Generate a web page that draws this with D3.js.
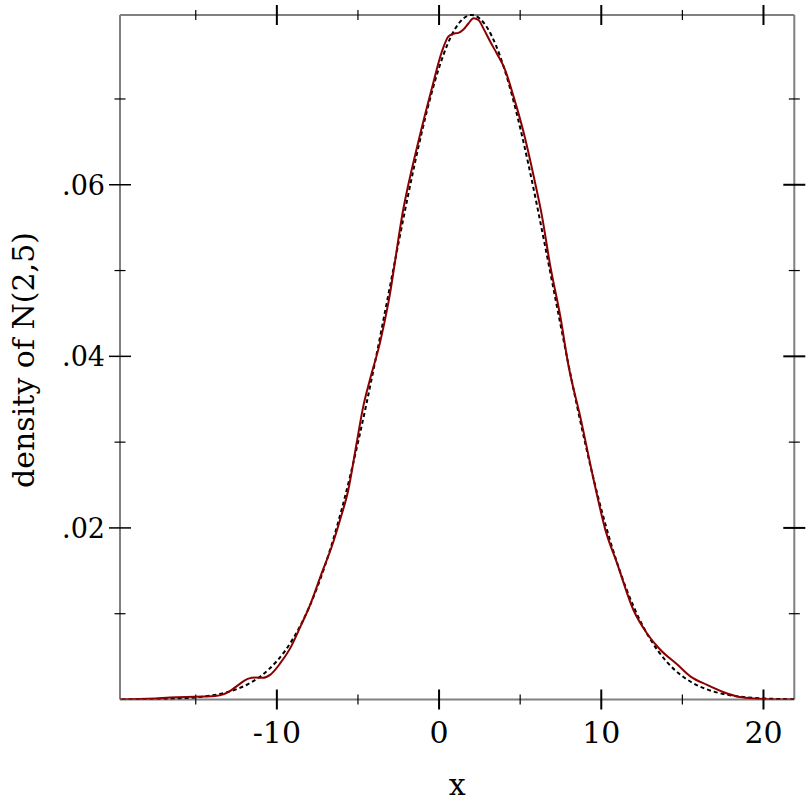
<!DOCTYPE html>
<html>
<head>
<meta charset="utf-8">
<script src="https://cdn.jsdelivr.net/npm/d3@7"></script>
<style>
  html, body { margin: 0; padding: 0; background: #fff; }
  svg { display: block; }
  text { font-family: "DejaVu Serif", serif; fill: #000; }
</style>
</head>
<body>
<svg id="chart" width="812" height="812"></svg>
<script>
// ---- data ----
const xDomain = [-19.67, 21.9];
const yDomain = [0, 0.079788];

const xMajorTicks = [-10, 0, 10, 20];
const xMajorLabels = ["-10", "0", "10", "20"];
const xMinorTicks = [-15, -5, 5, 15];
const yMajorTicks = [0.02, 0.04, 0.06];
const yMajorLabels = [".02", ".04", ".06"];
const yMinorTicks = [0.01, 0.03, 0.05, 0.07];

const xLabel = "x";
const yLabel = "density of N(2,5)";

// normal density N(2,5), read at integer x
const normX = [-20,-19,-18,-17,-16,-15,-14,-13,-12,-11,-10,-9,-8,-7,-6,-5,-4,-3,-2,-1,0,1,2,3,4,5,6,7,8,9,10,11,12,13,14,15,16,17,18,19,20,21,22];
const normY = [0.000005,0.0000118,0.0000268,0.0000584,0.000122,0.000246,0.000477,0.000886,0.001583,0.002717,0.004479,0.007095,0.010798,0.015790,0.022184,0.029945,0.038837,0.048394,0.057938,0.066645,0.073654,0.078208,0.079788,0.078208,0.073654,0.066645,0.057938,0.048394,0.038837,0.029945,0.022184,0.015790,0.010798,0.007095,0.004479,0.002717,0.001583,0.000886,0.000477,0.000246,0.000122,0.0000584,0.0000268];

// estimated density of the sample
const kdeX = [-19.67,-18.5,-17.5,-16.6,-15.6,-14.5,-13.8,-13.3,-12.9,-12.3,-11.8,-11.3,-10.85,-10.4,-9.8,-9.2,-8.5,-8.0,-7.24,-6.62,-6.11,-5.6,-5.08,-4.67,-4.26,-3.64,-3.13,-2.2,-1.28,-0.45,0.17,0.58,0.88,1.19,1.5,1.81,2.12,2.43,2.74,3.15,3.56,4.07,4.59,5.2,5.82,6.34,6.85,7.47,7.98,8.7,9.6,10.25,10.97,11.99,12.82,13.64,14.67,15.49,16.52,17.55,18.4,19.2,20.2,21.9];
const kdeY = [0,0.00005,0.00013,0.00023,0.0003,0.00034,0.0004,0.0006,0.00097,0.0018,0.0024,0.00255,0.00253,0.0029,0.0042,0.0059,0.0087,0.0108,0.0147,0.0178,0.0209,0.0244,0.0299,0.0342,0.0373,0.0416,0.0462,0.0572,0.0650,0.0712,0.0755,0.0773,0.0776,0.0777,0.0781,0.0788,0.0794,0.0792,0.0782,0.0767,0.0753,0.0734,0.0703,0.0662,0.0611,0.0564,0.0506,0.0447,0.0389,0.0330,0.0250,0.0198,0.0159,0.0104,0.0077,0.0058,0.0041,0.0027,0.0017,0.00085,0.00035,0.00015,0.00004,0];

// ---- layout ----
const L = 120, R = 794.3, T = 15, B = 699.5;
const FS = 30, FSY = 27;
const svg = d3.select("#chart");
const x = d3.scaleLinear().domain(xDomain).range([L, R]);
const y = d3.scaleLinear().domain(yDomain).range([B, T]);

svg.append("defs").append("clipPath").attr("id", "clip")
  .append("rect").attr("x", L).attr("y", T - 3).attr("width", R - L).attr("height", B - T + 3);

// frame
const axisColor = "#808080";
svg.append("g").selectAll("line")
  .data([[L, T, R, T], [L, B, R, B], [L, T, L, B], [R, T, R, B]])
  .join("line")
  .attr("x1", d => d[0]).attr("y1", d => d[1]).attr("x2", d => d[2]).attr("y2", d => d[3])
  .attr("stroke", axisColor).attr("stroke-width", 2);

// ticks
const tg = svg.append("g").attr("stroke", "#000");
function hTicks(vals, yy, half, w) {
  tg.append("g").selectAll("line").data(vals).join("line")
    .attr("x1", d => x(d)).attr("x2", d => x(d))
    .attr("y1", yy - half).attr("y2", yy + half).attr("stroke-width", w);
}
function vTicks(vals, xx, half, w) {
  tg.append("g").selectAll("line").data(vals).join("line")
    .attr("y1", d => y(d)).attr("y2", d => y(d))
    .attr("x1", xx - half).attr("x2", xx + half).attr("stroke-width", w);
}
hTicks(xMajorTicks, B, 10, 2);
hTicks(xMinorTicks, B, 5, 1.2);
hTicks(xMajorTicks, T, 10, 2);
hTicks(xMinorTicks, T, 5, 1.2);
vTicks(yMajorTicks, L, 11, 1.5);
vTicks(yMinorTicks, L, 5.5, 1.2);
vTicks(yMajorTicks, R, 11, 2);
vTicks(yMinorTicks, R, 5.5, 1.2);

// tick labels
svg.append("g").selectAll("text").data(xMajorTicks).join("text")
  .attr("x", d => x(d)).attr("y", 743)
  .attr("text-anchor", "middle").attr("font-size", FS)
  .text((d, i) => xMajorLabels[i]);
svg.append("g").selectAll("text").data(yMajorTicks).join("text")
  .attr("x", 105).attr("y", d => y(d) + 10)
  .attr("text-anchor", "end").attr("font-size", FSY)
  .text((d, i) => yMajorLabels[i]);

// axis titles
svg.append("text").attr("x", (L + R) / 2).attr("y", 795)
  .attr("text-anchor", "middle").attr("font-size", FS).text(xLabel);
svg.append("text")
  .attr("transform", `translate(34, 360) rotate(-90)`)
  .attr("text-anchor", "middle").attr("font-size", FS).text(yLabel);

// curves
const plot = svg.append("g").attr("clip-path", "url(#clip)");
const normPts = normX.map((v, i) => [v, normY[i]]);
const kdePts = kdeX.map((v, i) => [v, kdeY[i]]);
const line = d3.line().x(d => x(d[0])).y(d => y(d[1]));

plot.append("path").datum(normPts)
  .attr("d", line.curve(d3.curveNatural))
  .attr("fill", "none").attr("stroke", "#000").attr("stroke-width", 2)
  .attr("stroke-dasharray", "4,3");

plot.append("path").datum(kdePts)
  .attr("d", line.curve(d3.curveMonotoneX))
  .attr("fill", "none").attr("stroke", "#8b0000").attr("stroke-width", 2);
</script>
</body>
</html>
